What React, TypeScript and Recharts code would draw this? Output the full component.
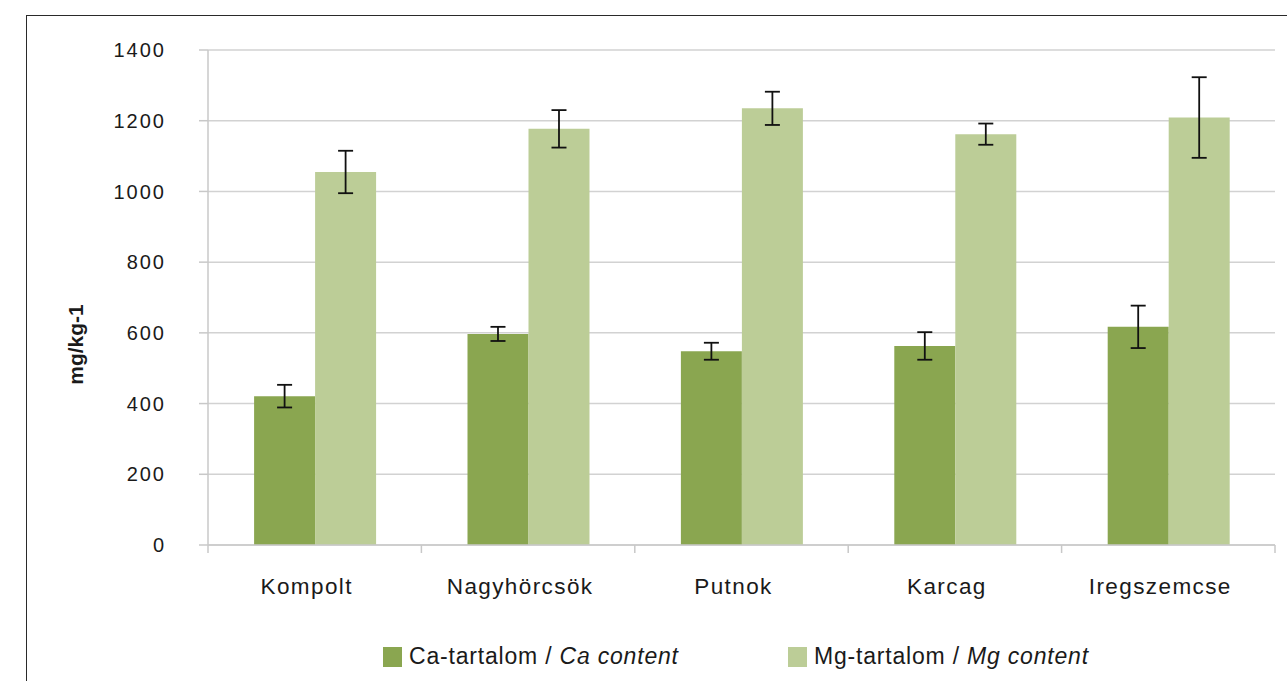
import React from "react";
import {
  BarChart, Bar, XAxis, YAxis, CartesianGrid, ErrorBar, Label,
} from "recharts";

// sites
const SITES = ["Kompolt", "Nagyhörcsök", "Putnok", "Karcag", "Iregszemcse"];
// mg/kg
const CA_VALUES = [421, 597, 548, 563, 617];
const CA_ERRORS = [32, 20, 24, 39, 60];
const MG_VALUES = [1055, 1177, 1235, 1162, 1209];
const MG_ERRORS = [60, 53, 47, 30, 114];
const Y_TICKS = [0, 200, 400, 600, 800, 1000, 1200, 1400];

const CA_COLOR = "#8aa650";
const MG_COLOR = "#bccd97";
const TEXT = "#1a1a1a";
const FONT = "'Liberation Sans', Arial, Helvetica, sans-serif";

const W = 1287;
const H = 681;
const X_AXIS_H = 30;
const MARGIN = { top: 50, right: 12, bottom: 106, left: 58 };
const Y_AXIS_W = 150;
const PLOT_LEFT = MARGIN.left + Y_AXIS_W;
const PLOT_W = W - PLOT_LEFT - MARGIN.right;
const PLOT_BOTTOM = H - MARGIN.bottom - X_AXIS_H;

const data = SITES.map((site, i) => ({
  site,
  ca: CA_VALUES[i],
  caErr: CA_ERRORS[i],
  mg: MG_VALUES[i],
  mgErr: MG_ERRORS[i],
}));

function SiteTick(props: any) {
  const { x, payload, index } = props;
  const band = PLOT_W / SITES.length;
  const left = x - band / 2;
  return (
    <g>
      <line x1={left} y1={PLOT_BOTTOM} x2={left} y2={PLOT_BOTTOM + 8} stroke="#c8c8c8" strokeWidth={1.5} />
      {index === SITES.length - 1 && (
        <line x1={x + band / 2} y1={PLOT_BOTTOM} x2={x + band / 2} y2={PLOT_BOTTOM + 8} stroke="#c8c8c8" strokeWidth={1.5} />
      )}
      {/* labels sit a little left of the band centre in the original */}
      <text x={x - 8} y={PLOT_BOTTOM + 49} textAnchor="middle" fill={TEXT} fontSize={22.5}
        letterSpacing={1.4} fontFamily={FONT}>
        {payload.value}
      </text>
    </g>
  );
}

function AxisTitle(props: any) {
  const { viewBox } = props;
  const cx = 75;
  const cy = viewBox.y + viewBox.height / 2 + 47;
  return (
    <text x={cx} y={cy} transform={`rotate(-90 ${cx} ${cy})`} textAnchor="middle" dominantBaseline="central"
      fill={TEXT} fontSize={21} fontWeight="bold" fontFamily={FONT}>
      mg/kg-1
    </text>
  );
}

function LegendItem({ color, main, italic }: { color: string; main: string; italic: string }) {
  return (
    <div style={{ display: "flex", alignItems: "center" }}>
      <div style={{ width: 19, height: 20, background: color, marginRight: 7 }} />
      <span style={{ fontSize: 23, letterSpacing: 0.8, color: TEXT, whiteSpace: "nowrap" }}>
        {main} <i>{italic}</i>
      </span>
    </div>
  );
}

export default function App() {
  return (
    <div style={{ position: "fixed", left: 0, top: 0, width: W, height: H, overflow: "hidden", background: "#fff", fontFamily: FONT }}>
      <div style={{
        position: "absolute", left: 26, top: 15, width: 1320, height: 720,
        border: "1.5px solid #2a2a2a",
      }} />
      <div style={{ position: "absolute", left: 0, top: 0 }}>
        <BarChart width={W} height={H} data={data} margin={MARGIN} barCategoryGap="21.6%" barGap={0}>
          <CartesianGrid vertical={false} stroke="#d2d2d2" strokeWidth={1.5} />
          <XAxis
            dataKey="site"
            axisLine={{ stroke: "#c8c8c8", strokeWidth: 1.5 }}
            tickLine={false}
            tick={<SiteTick />}
            interval={0}
            height={X_AXIS_H}
          />
          <YAxis
            width={Y_AXIS_W}
            domain={[0, 1400]}
            ticks={Y_TICKS}
            axisLine={{ stroke: "#c8c8c8", strokeWidth: 1.5 }}
            tickLine={{ stroke: "#c8c8c8", strokeWidth: 1.5 }}
            tickSize={9}
            tickMargin={33}
            tick={{ fill: TEXT, fontSize: 20, fontFamily: FONT, letterSpacing: 2 }}
          >
            <Label content={<AxisTitle />} />
          </YAxis>
          <Bar dataKey="ca" fill={CA_COLOR} isAnimationActive={false}>
            <ErrorBar dataKey="caErr" width={7.5} stroke="#111" strokeWidth={1.8} />
          </Bar>
          <Bar dataKey="mg" fill={MG_COLOR} isAnimationActive={false}>
            <ErrorBar dataKey="mgErr" width={7.5} stroke="#111" strokeWidth={1.8} />
          </Bar>
        </BarChart>
      </div>
      <div style={{ position: "absolute", left: 383, top: 643 }}>
        <LegendItem color={CA_COLOR} main="Ca-tartalom /" italic="Ca content" />
      </div>
      <div style={{ position: "absolute", left: 788, top: 643 }}>
        <LegendItem color={MG_COLOR} main="Mg-tartalom /" italic="Mg content" />
      </div>
    </div>
  );
}
